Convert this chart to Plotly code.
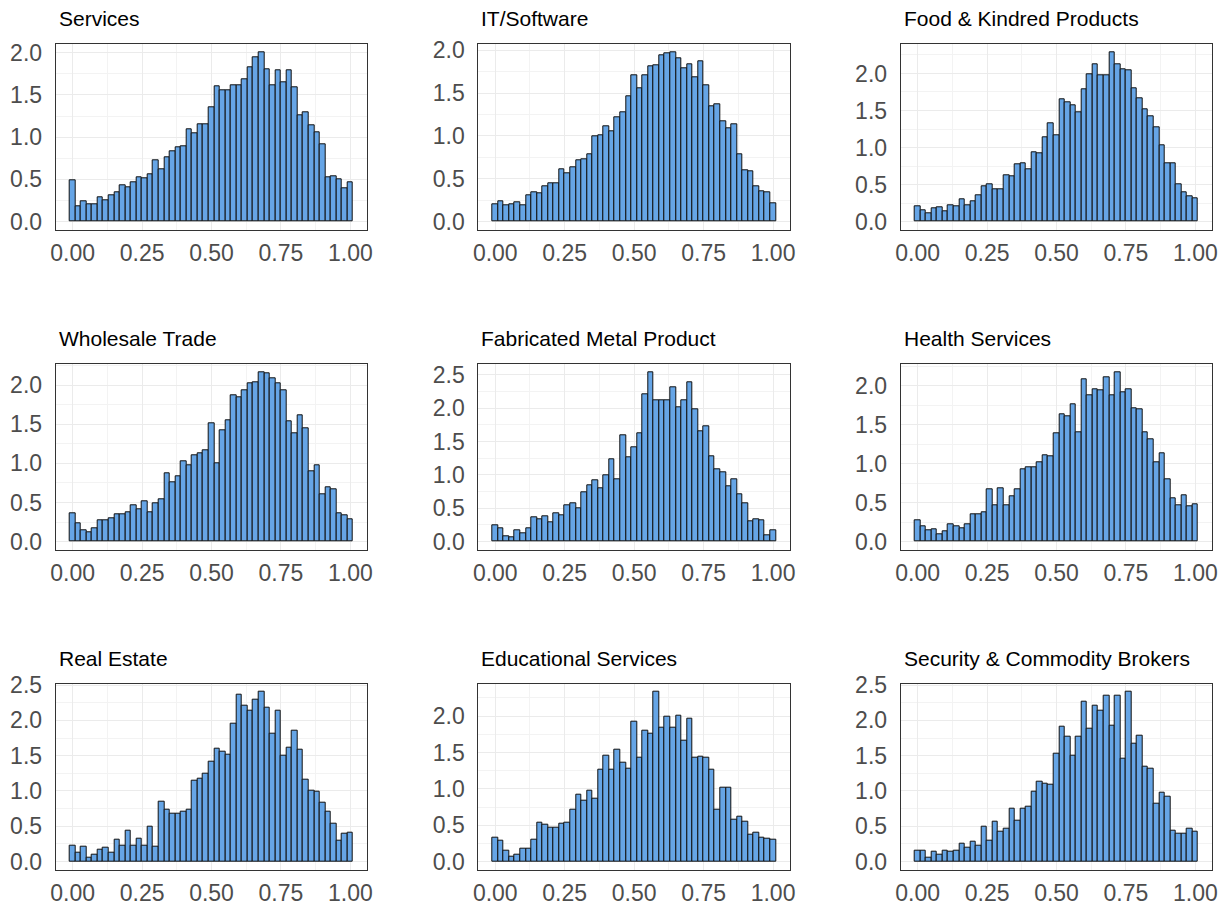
import plotly.graph_objects as go

# ---- data (density per bin, bins of width 0.02 centred at 0.00, 0.02, ..., 1.00) ----
bin_width = 0.02
bin_centers = [round(i * bin_width, 2) for i in range(51)]

titles = ["Services", "IT/Software", "Food & Kindred Products",
          "Wholesale Trade", "Fabricated Metal Product", "Health Services",
          "Real Estate", "Educational Services", "Security & Commodity Brokers"]

services = [0.49, 0.18, 0.24, 0.21, 0.21, 0.29, 0.25, 0.31, 0.35, 0.43, 0.41, 0.46, 0.52,
            0.51, 0.56, 0.73, 0.62, 0.76, 0.83, 0.88, 0.89, 1.09, 1.04, 1.15, 1.15, 1.35,
            1.60, 1.55, 1.56, 1.62, 1.61, 1.68, 1.83, 1.95, 2.00, 1.80, 1.62, 1.79, 1.65,
            1.79, 1.59, 1.26, 1.29, 1.14, 1.06, 0.92, 0.53, 0.54, 0.50, 0.40, 0.46]
it_software = [0.20, 0.24, 0.19, 0.20, 0.23, 0.19, 0.31, 0.34, 0.33, 0.41, 0.45, 0.45, 0.61,
               0.56, 0.63, 0.72, 0.73, 0.79, 0.99, 1.01, 1.11, 1.05, 1.22, 1.27, 1.46, 1.71,
               1.55, 1.71, 1.81, 1.82, 1.94, 1.96, 1.97, 1.90, 1.79, 1.83, 1.68, 1.87, 1.59,
               1.34, 1.37, 1.17, 1.09, 1.13, 0.78, 0.60, 0.59, 0.41, 0.35, 0.34, 0.21]
food = [0.21, 0.15, 0.11, 0.18, 0.19, 0.14, 0.22, 0.20, 0.30, 0.22, 0.27, 0.35, 0.48,
        0.50, 0.44, 0.44, 0.63, 0.61, 0.77, 0.79, 0.70, 0.94, 0.92, 1.14, 1.33, 1.16,
        1.65, 1.61, 1.57, 1.47, 1.79, 1.99, 2.12, 1.98, 1.97, 2.28, 2.13, 2.06, 2.04,
        1.80, 1.67, 1.52, 1.42, 1.27, 1.03, 0.79, 0.79, 0.51, 0.39, 0.34, 0.31]
wholesale = [0.36, 0.23, 0.14, 0.12, 0.17, 0.27, 0.27, 0.30, 0.35, 0.35, 0.37, 0.46, 0.41,
             0.51, 0.38, 0.49, 0.54, 0.87, 0.76, 0.84, 1.03, 0.98, 1.10, 1.13, 1.17, 1.51,
             1.00, 1.42, 1.55, 1.87, 1.84, 1.94, 2.02, 2.04, 2.16, 2.15, 2.09, 2.02, 1.93,
             1.54, 1.39, 1.62, 1.45, 0.90, 0.97, 0.61, 0.70, 0.67, 0.36, 0.33, 0.28]
fabricated = [0.24, 0.20, 0.08, 0.06, 0.17, 0.12, 0.20, 0.36, 0.33, 0.38, 0.29, 0.42, 0.40,
              0.55, 0.58, 0.50, 0.74, 0.84, 0.92, 0.80, 1.00, 1.24, 0.94, 1.59, 1.27, 1.42,
              1.62, 2.21, 2.53, 2.11, 2.11, 2.12, 2.31, 2.01, 2.12, 2.39, 1.98, 1.65, 1.72,
              1.28, 1.09, 1.04, 0.83, 0.93, 0.71, 0.57, 0.30, 0.33, 0.32, 0.09, 0.17]
health = [0.27, 0.19, 0.14, 0.16, 0.09, 0.13, 0.22, 0.19, 0.17, 0.22, 0.35, 0.35, 0.37,
          0.67, 0.46, 0.69, 0.46, 0.58, 0.67, 0.93, 0.95, 0.95, 1.02, 1.11, 1.10, 1.39,
          1.63, 1.61, 1.76, 1.40, 2.08, 1.88, 1.96, 1.95, 2.11, 1.88, 2.17, 1.92, 1.96,
          1.71, 1.70, 1.40, 1.32, 1.02, 1.13, 0.80, 0.56, 0.46, 0.60, 0.45, 0.48]
real_estate = [0.23, 0.13, 0.21, 0.05, 0.09, 0.17, 0.19, 0.12, 0.31, 0.23, 0.43, 0.23, 0.33,
               0.23, 0.49, 0.21, 0.85, 0.74, 0.68, 0.68, 0.70, 0.74, 1.15, 1.17, 1.25, 1.42,
               1.60, 1.56, 1.52, 1.95, 2.36, 2.21, 2.14, 2.30, 2.40, 2.18, 1.81, 2.14, 1.50,
               1.62, 1.85, 1.58, 1.16, 1.01, 0.99, 0.83, 0.71, 0.54, 0.29, 0.39, 0.41]
educational = [0.33, 0.29, 0.15, 0.06, 0.10, 0.18, 0.18, 0.30, 0.54, 0.50, 0.46, 0.46, 0.52,
               0.54, 0.72, 0.92, 0.84, 0.98, 0.87, 1.26, 1.46, 1.26, 1.54, 1.36, 1.28, 1.92,
               1.43, 1.80, 1.76, 2.33, 1.84, 1.99, 1.84, 2.01, 1.66, 1.97, 1.43, 1.44, 1.43,
               1.26, 0.72, 1.02, 1.02, 0.58, 0.61, 0.55, 0.37, 0.40, 0.33, 0.32, 0.30]
security = [0.15, 0.15, 0.06, 0.14, 0.09, 0.15, 0.14, 0.15, 0.25, 0.20, 0.28, 0.23, 0.49,
            0.30, 0.56, 0.42, 0.47, 0.75, 0.58, 0.75, 0.77, 0.99, 1.13, 1.10, 1.09, 1.53,
            1.91, 1.77, 1.50, 1.77, 2.26, 1.88, 2.21, 2.14, 2.35, 1.93, 2.35, 1.46, 2.40,
            1.67, 1.78, 1.34, 1.32, 0.82, 0.98, 0.92, 0.44, 0.40, 0.40, 0.47, 0.42]

series = [services, it_software, food, wholesale, fabricated, health,
          real_estate, educational, security]

x_tickvals = [0, 0.25, 0.5, 0.75, 1.0]
x_ticktext = ["0.00", "0.25", "0.50", "0.75", "1.00"]

# ---- layout geometry (pixels, page offset of 8px compensated) ----
W, H = 1230, 907
OFF = 8
col_px = [(55.7 - OFF, 367.3 - OFF), (478.3 - OFF, 790.0 - OFF), (900.7 - OFF, 1212.3 - OFF)]
row_px = [(44.3 - OFF, 230.0 - OFF), (364.3 - OFF, 550.0 - OFF), (683.7 - OFF, 870.0 - OFF)]

fig = go.Figure()
annotations = []
layout_axes = {}

for i, (title, vals) in enumerate(zip(titles, series)):
    r, c = divmod(i, 3)
    n = i + 1
    xa = "x" if n == 1 else f"x{n}"
    ya = "y" if n == 1 else f"y{n}"
    fig.add_trace(go.Bar(
        x=bin_centers, y=vals, width=bin_width, xaxis=xa, yaxis=ya,
        marker=dict(color="#66A5E6", line=dict(color="#111111", width=1)),
        showlegend=False, hoverinfo="x+y"))
    x0, x1 = col_px[c]
    y0, y1 = row_px[r]
    M = max(vals)
    common = dict(showline=True, mirror=True, linecolor="#333333", linewidth=1,
                  ticks="", zeroline=False, showgrid=True,
                  gridcolor="#EBEBEB", gridwidth=1.1,
                  tickfont=dict(family="Liberation Sans, Arial", size=23, color="#4D4D4D"),
                  automargin=False)
    layout_axes["xaxis" if n == 1 else f"xaxis{n}"] = dict(
        domain=[x0 / W, x1 / W], anchor=ya, range=[-0.061, 1.061],
        tickvals=x_tickvals, ticktext=x_ticktext, ticklabelstandoff=2,
        minor=dict(tickvals=[0.125, 0.375, 0.625, 0.875], showgrid=True,
                   gridcolor="#F3F3F3", gridwidth=0.6),
        **common)
    layout_axes["yaxis" if n == 1 else f"yaxis{n}"] = dict(
        domain=[1 - y1 / H, 1 - y0 / H], anchor=xa, range=[-0.05 * M, 1.05 * M],
        dtick=0.5, tick0=0, tickformat=".1f", ticklabelstandoff=8,
        minor=dict(dtick=0.25, tick0=0, showgrid=True, gridcolor="#F3F3F3", gridwidth=0.6),
        **common)
    annotations.append(dict(
        text=title, xref="paper", yref="paper", x=(x0 + 1) / W, y=1 - (y0 - 25.5) / H,
        xanchor="left", yanchor="middle", showarrow=False,
        font=dict(family="Liberation Sans, Arial", size=21, color="#000000")))

fig.update_layout(
    width=W, height=H, margin=dict(l=0, r=0, t=0, b=0, autoexpand=False),
    paper_bgcolor="white", plot_bgcolor="white", bargap=0,
    annotations=annotations, **layout_axes)

fig.write_html("out.html")
